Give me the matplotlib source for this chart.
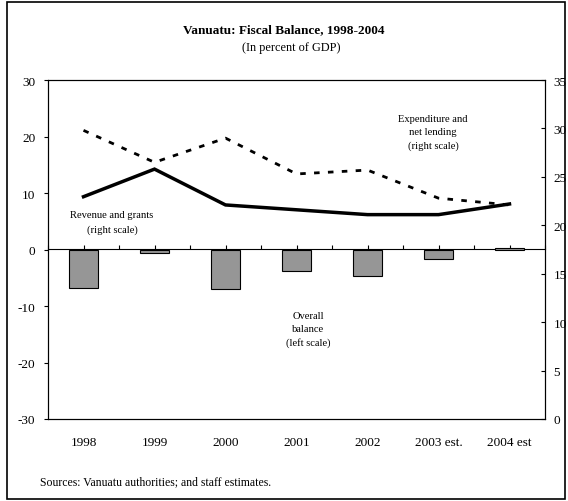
import matplotlib
matplotlib.use("Agg")
import matplotlib.pyplot as plt
from matplotlib.patches import Rectangle
import numpy as np

plt.rcParams['font.family'] = ['Liberation Serif', 'DejaVu Serif']
plt.rcParams['axes.unicode_minus'] = False

years = ["1998", "1999", "2000", "2001", "2002", "2003 est.", "2004 est"]
overall_balance = [-6.85, -0.65, -7.0, -3.8, -4.7, -1.7, 0.35]
revenue_grants = [22.95, 25.8, 22.1, 21.6, 21.1, 21.1, 22.2]
expenditure = [29.8, 26.5, 29.0, 25.3, 25.7, 22.8, 22.1]
left_ticks = [-30, -20, -10, 0, 10, 20, 30]
right_ticks = [0, 5, 10, 15, 20, 25, 30, 35]

W, H = 568, 502
fig = plt.figure(figsize=(W / 100, H / 100), dpi=100)
ax = fig.add_axes([48 / W, 1 - 420 / H, (545 - 48) / W, (420 - 81) / H])

x = np.arange(len(years))
ax.bar(x, overall_balance, width=0.4, color='#969696', edgecolor='black', linewidth=0.8, zorder=2)
ax.set_xlim(-0.5, len(years) - 0.5)
ax.set_ylim(-30, 30)
ax.set_yticks(left_ticks)
ax.set_xticks(x)
ax.set_xticklabels(years)
ax.tick_params(axis='x', length=0, pad=12, labelsize=9.5)
ax.tick_params(axis='y', direction='out', length=3, width=0.8, labelsize=9.5, pad=6)
for s in ax.spines.values():
    s.set_linewidth(0.8)

# zero line with tick marks pointing upward
sec = ax.secondary_xaxis(0.5)
sec.set_xticks(np.arange(-0.5, len(years), 0.5))
sec.tick_params(axis='x', top=True, bottom=False, direction='out', length=3, width=0.8,
                labeltop=False, labelbottom=False)
for s in sec.spines.values():
    s.set_linewidth(0.8)

ax2 = ax.twinx()
ax2.plot(x, revenue_grants, color='black', linewidth=2.5, solid_joinstyle='miter', zorder=3)
ax2.plot(x, expenditure, color='black', linewidth=2, linestyle=(0, (2, 3)), zorder=3)
ax2.set_ylim(0, 35)
ax2.set_yticks(right_ticks)
ax2.tick_params(axis='y', direction='in', length=3, width=0.8, labelsize=9.5, pad=6)
for s in ax2.spines.values():
    s.set_linewidth(0.8)

fig.text(284 / W, 1 - 30 / H, "Vanuatu: Fiscal Balance, 1998-2004", ha='center', va='center',
         fontsize=9.5, fontweight='bold')
fig.text(291 / W, 1 - 48 / H, "(In percent of GDP)", ha='center', va='center', fontsize=8.8)

fig.text(112 / W, 1 - 223 / H, "Revenue and grants\n(right scale)", ha='center', va='center',
         fontsize=7.6, linespacing=1.6)
fig.text(433 / W, 1 - 133 / H, "Expenditure and\nnet lending\n(right scale)", ha='center', va='center',
         fontsize=7.6, linespacing=1.6)
fig.text(308 / W, 1 - 330 / H, "Overall\nbalance\n(left scale)", ha='center', va='center',
         fontsize=7.6, linespacing=1.6)

fig.text(40 / W, 1 - 482 / H, "Sources: Vanuatu authorities; and staff estimates.", ha='left', va='center',
         fontsize=8.5)

fig.patches.append(Rectangle((7 / W, 2 / H), (565 - 7) / W, (499 - 2) / H, transform=fig.transFigure,
                             fill=False, edgecolor='black', linewidth=1.2))

fig.savefig("out.png", dpi=100)
